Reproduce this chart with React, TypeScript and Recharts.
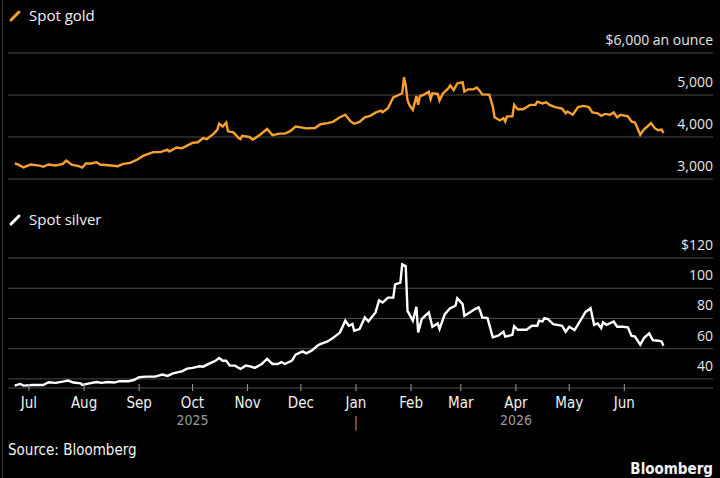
import React from 'react';
import { LineChart, Line, XAxis, YAxis, CartesianGrid } from 'recharts';

// x values are days since 2025-07-01
const goldDays = [
  -8, -6, -3, 1, 6, 8, 11, 15, 19, 21, 24, 28, 30, 32, 35, 38, 40, 46, 50, 53,
  57, 61, 64, 66, 70, 74, 78, 79, 83, 86, 89, 92, 95, 98, 100, 104, 106, 107, 109, 111,
  112, 115, 118, 119, 120, 124, 126, 130, 134, 137, 141, 144, 147, 150, 153, 156, 161, 164, 168, 171,
  175, 178, 181, 183, 186, 189, 192, 195, 198, 199, 202, 205, 208, 210, 211, 212, 213, 214, 216, 218,
  219, 220, 222, 225, 226, 227, 230, 231, 233, 236, 237, 239, 241, 244, 245, 247, 250, 252, 254, 255,
  259, 261, 262, 265, 267, 268, 269, 272, 273, 275, 278, 282, 285, 286, 289, 291, 293, 296, 300, 302,
  303, 306, 309, 312, 315, 317, 320, 322, 324, 327, 329, 331, 333, 337, 339, 341, 342, 344, 346, 348,
  350, 352, 354, 356, 357,
];
const goldPrices = [
  3370, 3340, 3275, 3345, 3320, 3290, 3345, 3320, 3360, 3440, 3340, 3305, 3270, 3370, 3370, 3400, 3345, 3320, 3305, 3360,
  3385, 3465, 3545, 3580, 3640, 3640, 3700, 3655, 3750, 3730, 3795, 3860, 3875, 3975, 3950, 4080, 4175, 4315, 4250, 4345,
  4135, 4110, 3975, 3950, 4030, 4000, 3935, 4055, 4190, 4045, 4080, 4080, 4140, 4250, 4230, 4205, 4215, 4305, 4330, 4360,
  4470, 4530, 4370, 4315, 4360, 4470, 4505, 4580, 4630, 4590, 4685, 4945, 5000, 5040, 5420, 5235, 4880, 4765, 4645, 4975,
  4770, 4975, 5000, 5080, 4905, 5040, 5025, 4865, 5040, 5160, 5230, 5120, 5275, 5305, 5080, 5135, 5135, 5180, 5080, 5015,
  5010, 4725, 4470, 4395, 4450, 4370, 4490, 4490, 4765, 4660, 4660, 4765, 4765, 4840, 4800, 4825, 4765, 4710, 4675, 4565,
  4605, 4530, 4710, 4740, 4710, 4585, 4565, 4505, 4550, 4530, 4585, 4470, 4530, 4490, 4370, 4345, 4250, 4055, 4175, 4250,
  4330, 4215, 4160, 4175, 4095,
];

const silverDays = [
  -8, -5, -3, 2, 8, 11, 15, 19, 22, 25, 29, 30, 34, 38, 41, 44, 48, 51, 56, 59,
  62, 66, 71, 75, 78, 81, 86, 89, 92, 96, 98, 102, 105, 107, 109, 111, 113, 116, 118, 119,
  122, 125, 127, 131, 134, 137, 140, 142, 144, 148, 150, 154, 156, 159, 163, 165, 168, 171, 175, 178,
  180, 182, 183, 186, 189, 191, 195, 197, 199, 202, 205, 206, 209, 210, 212, 213, 215, 216, 218, 219,
  221, 223, 225, 227, 230, 231, 234, 237, 240, 241, 244, 245, 248, 251, 253, 254, 255, 258, 261, 264,
  267, 268, 272, 273, 275, 280, 283, 286, 287, 289, 290, 292, 295, 300, 302, 304, 307, 310, 313, 316,
  318, 320, 322, 323, 325, 329, 331, 334, 337, 339, 341, 344, 346, 349, 351, 354, 356, 357,
];
const silverPrices = [
  35.6, 36.7, 35.6, 36, 36, 37.8, 37.4, 38.2, 38.9, 37.6, 37.1, 36, 37.1, 38, 37.4, 38, 37.6, 38.5, 38.5, 39.3,
  41.1, 41.5, 41.5, 42.9, 42, 43.7, 45, 46.8, 47.3, 48.4, 48.1, 50.5, 52, 53.8, 52, 52, 48.8, 48.8, 47.3, 46.6,
  48.8, 48.1, 47.3, 49.9, 53.2, 49.9, 49.9, 51.2, 49.9, 52.1, 56, 58.2, 56.9, 58.7, 62.6, 63.5, 64.8, 67, 70.8, 78.5,
  75.2, 76.3, 71.9, 73, 80.7, 78, 84, 92, 90.5, 93.8, 93.8, 102.6, 103.7, 115.8, 114.7, 85, 80.7, 78.5, 87.7, 70.8,
  79.6, 81.8, 84, 74.5, 76.7, 73, 82.9, 86.8, 88.4, 93.4, 89.5, 81.8, 84, 86.2, 87.3, 84.6, 80.7, 80.2, 67.5, 68.6,
  71.2, 68, 69.2, 74.9, 72.5, 72.5, 75.2, 75.2, 78.5, 78, 80.2, 79.6, 76.3, 75.2, 71.2, 74.5, 72.3, 78, 84, 86.8,
  75.8, 76.7, 73.6, 77.4, 75.8, 78, 74.5, 74.5, 74.1, 68.6, 68, 62.6, 67, 70.1, 65.7, 65.3, 64.8, 62,
];

const monthTicks = [0, 31, 62, 92, 123, 153, 184, 215, 243, 274, 304, 335];
const monthLabels = ['Jul', 'Aug', 'Sep', 'Oct', 'Nov', 'Dec', 'Jan', 'Feb', 'Mar', 'Apr', 'May', 'Jun'];
const yearLabels: Record<string, string> = { Oct: '2025', Jan: '|', Apr: '2026' };

const goldTicks = [3000, 4000, 5000, 6000];
const goldTickLabels = ['3,000', '4,000', '5,000', '$6,000 an ounce'];
const silverTicks = [40, 60, 80, 100, 120];
const silverTickLabels = ['40', '60', '80', '100', '$120'];

const goldData = goldDays.map((d, i) => ({ day: d, price: goldPrices[i] }));
const silverData = silverDays.map((d, i) => ({ day: d, price: silverPrices[i] }));

const W = 720;
const H = 478;
const PLOT_LEFT = 8;
const PLOT_RIGHT = 713;
const X_DOMAIN = [-11.8, 384.9];

const SANS = "'Open Sans', 'Noto Sans', sans-serif";
const NARROW = "'Liberation Sans Narrow', 'DejaVu Sans Condensed', 'Roboto', sans-serif";
const GOLD = '#f9a12e';
const GRID = '#4a4a4a';

const makeYTick = (ticks: number[], labels: string[]) => (props: any) => {
  const idx = ticks.indexOf(props.payload.value);
  return (
    <text x={PLOT_RIGHT} y={props.y - 8} textAnchor="end" fill="#e6e6e6" fontSize={14} fontFamily={SANS}>
      {labels[idx]}
    </text>
  );
};

const MonthTick = (props: any) => {
  const { x, payload } = props;
  const label = monthLabels[monthTicks.indexOf(payload.value)];
  const year = yearLabels[label];
  return (
    <g>
      <line x1={x} x2={x} y1={384} y2={391} stroke="#9a9a9a" strokeWidth={1} />
      <text x={x} y={408} textAnchor="middle" fill="#f2f2f2" fontSize={15} fontFamily={NARROW}>
        {label}
      </text>
      {year && (
        <text x={x} y={year === '|' ? 427 : 425} textAnchor="middle" fill="#9a9a9a" fontSize={14} fontFamily={NARROW}>
          {year}
        </text>
      )}
    </g>
  );
};

const Title = ({ y, color, text }: { y: number; color: string; text: string }) => (
  <>
    <line x1={11} y1={y - 1} x2={19} y2={y - 9} stroke={color} strokeWidth={3} strokeLinecap="round" />
    <text x={29} y={y} fill="#f2f2f2" fontSize={15} fontFamily={SANS}>
      {text}
    </text>
  </>
);

export default function App() {
  return (
    <div style={{ position: 'absolute', left: 0, top: 0, width: W, height: H, background: '#000', overflow: 'hidden' }}>
      <div style={{ position: 'absolute', left: 2, top: 0, width: 1, height: H, background: '#3a3a3a' }} />

      <div style={{ position: 'absolute', left: 0, top: 0 }}>
        <LineChart width={W} height={H} data={goldData} margin={{ top: 53, bottom: H - 179, left: PLOT_LEFT, right: W - PLOT_RIGHT }}>
          <CartesianGrid vertical={false} stroke={GRID} />
          <XAxis dataKey="day" type="number" domain={X_DOMAIN} hide allowDataOverflow />
          <YAxis
            orientation="right"
            mirror
            width={120}
            domain={[3000, 6000]}
            ticks={goldTicks}
            interval={0}
            axisLine={false}
            tickLine={false}
            tick={makeYTick(goldTicks, goldTickLabels)}
          />
          <Line type="linear" dataKey="price" stroke={GOLD} strokeWidth={2.4} dot={false} isAnimationActive={false} />
        </LineChart>
      </div>

      <div style={{ position: 'absolute', left: 0, top: 0 }}>
        <LineChart width={W} height={H} data={silverData} margin={{ top: 258, bottom: H - 418, left: PLOT_LEFT, right: W - PLOT_RIGHT }}>
          <CartesianGrid vertical={false} stroke={GRID} />
          <XAxis
            dataKey="day"
            type="number"
            domain={X_DOMAIN}
            ticks={monthTicks}
            interval={0}
            height={30}
            axisLine={false}
            tickLine={false}
            allowDataOverflow
            tick={<MonthTick />}
          />
          <YAxis
            orientation="right"
            mirror
            width={120}
            domain={[34, 120]}
            ticks={silverTicks}
            interval={0}
            axisLine={false}
            tickLine={false}
            allowDataOverflow
            tick={makeYTick(silverTicks, silverTickLabels)}
          />
          <Line type="linear" dataKey="price" stroke="#ffffff" strokeWidth={2.4} dot={false} isAnimationActive={false} />
        </LineChart>
      </div>

      <svg width={W} height={H} style={{ position: 'absolute', left: 0, top: 0, pointerEvents: 'none' }}>
        <Title y={21} color={GOLD} text="Spot gold" />
        <Title y={225} color="#ffffff" text="Spot silver" />
        <text x={8} y={455} fill="#f2f2f2" fontSize={15} fontFamily={NARROW}>
          Source: Bloomberg
        </text>
        <text x={713} y={474} textAnchor="end" fill="#f2f2f2" fontSize={15} fontWeight="bold" fontFamily={NARROW}>
          Bloomberg
        </text>
      </svg>
    </div>
  );
}
